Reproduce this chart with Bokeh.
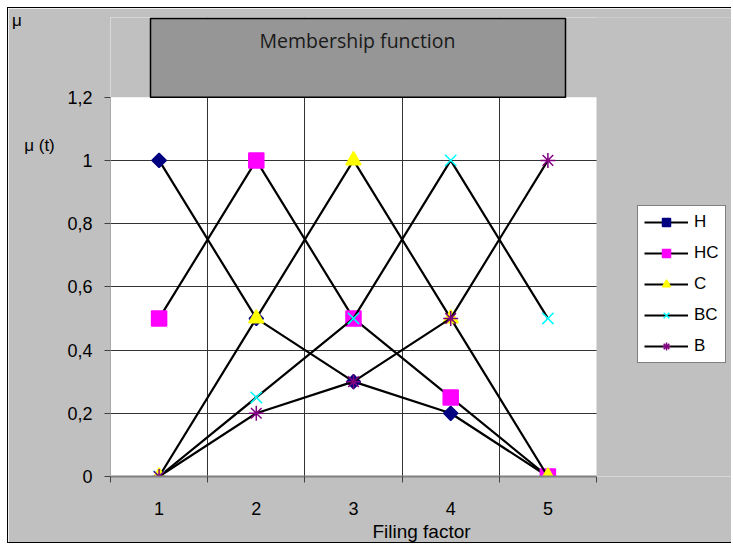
import math
from bokeh.plotting import figure
from bokeh.models import (FixedTicker, Legend, LegendItem, Range1d, LinearAxis, Label)
from bokeh.embed import file_html
from bokeh.resources import INLINE

categories = [1, 2, 3, 4, 5]
x_tick_labels = ["1", "2", "3", "4", "5"]
H = [1, 0.5, 0.3, 0.2, 0]
HC = [0.5, 1, 0.5, 0.25, 0]
C = [0, 0.5, 1, 0.5, 0]
BC = [0, 0.25, 0.5, 1, 0.5]
B = [0, 0.2, 0.3, 0.5, 1]
series_names = ["H", "HC", "C", "BC", "B"]
y_ticks = [0, 0.2, 0.4, 0.6, 0.8, 1.0, 1.2]
y_tick_labels = ["0", "0,2", "0,4", "0,6", "0,8", "1", "1,2"]
title_text = "Membership function"
x_label = "Filing factor"
y_label = "\u03bc  (t)"
corner_label = "\u03bc" + "\u00a0" * 8

ARIAL = "Liberation Sans"
GREY = "#c0c0c0"
W, Hh = 724, 536
# canvas pixels: frame edges and the white plot area inside it
FR_LEFT, FR_TOP, FR_BOT = 102, 9, 470
PLOT_TOP, PLOT_RIGHT = 89, 588
TBOX_LEFT, TBOX_RIGHT = 142, 557
x_min, x_end = categories[0] - 0.5, categories[-1] + 0.5
y_min, y_max = y_ticks[0], y_ticks[-1]


def y_at(px):
    return y_max * (FR_BOT - px) / (FR_BOT - PLOT_TOP)


def x_at(px):
    return x_min + (x_end - x_min) * (px - FR_LEFT) / (PLOT_RIGHT - FR_LEFT)


x_far, y_far = x_at(W), y_at(FR_TOP)
p = figure(width=W, height=Hh, output_backend="svg", toolbar_location=None,
           x_range=Range1d(x_min, x_far), y_range=Range1d(y_min, y_far),
           min_border_left=FR_LEFT, min_border_right=0,
           min_border_top=FR_TOP, min_border_bottom=Hh - FR_BOT)
p.styles = {"margin-left": "7px", "margin-top": "7px",
            "border-top": "1px solid black", "border-left": "1px solid black",
            "border-bottom": "1px solid black"}
p.background_fill_color = "white"
p.border_fill_color = GREY
p.outline_line_color = None

# x axis: labels at category centres, ticks at boundaries
bounds = [c - 0.5 for c in categories] + [x_end]
p.xaxis.bounds = (x_min, x_end)
p.xaxis.ticker = FixedTicker(ticks=categories, minor_ticks=bounds)
p.xaxis.major_label_overrides = {c: l for c, l in zip(categories, x_tick_labels)}
p.xaxis.major_tick_out = 0
p.xaxis.major_tick_in = 0
p.xaxis.minor_tick_out = 6
p.xaxis.minor_tick_in = 0
p.xaxis.minor_tick_line_color = "#404040"
p.xaxis.axis_line_color = "#808080"
p.xaxis.axis_line_width = 2
p.xaxis.major_label_text_font = ARIAL
p.xaxis.major_label_text_font_size = "18px"
p.xaxis.major_label_text_color = "black"
p.xaxis.major_label_standoff = 19
p.xaxis.axis_label = x_label
p.xaxis.axis_label_text_font = ARIAL
p.xaxis.axis_label_text_font_size = "19px"
p.xaxis.axis_label_text_font_style = "normal"
p.xaxis.axis_label_text_color = "black"
p.xaxis.axis_label_standoff = 3

p.yaxis.bounds = (y_min, y_max)
p.yaxis.ticker = FixedTicker(ticks=y_ticks)
p.yaxis.major_label_overrides = {t: l for t, l in zip(y_ticks, y_tick_labels)}
p.yaxis.major_tick_out = 6
p.yaxis.major_tick_in = 0
p.yaxis.major_tick_line_color = "#404040"
p.yaxis.minor_tick_line_color = None
p.yaxis.axis_line_color = "#a8a8a8"
p.yaxis.major_label_text_font = ARIAL
p.yaxis.major_label_text_font_size = "18px"
p.yaxis.major_label_text_color = "black"
p.yaxis.major_label_standoff = 12

# "mu (t)" and corner "mu" as labels on an outer left axis
mu_pos = [y_at(12), y_at(138)]
mu_axis = LinearAxis(ticker=FixedTicker(ticks=mu_pos),
                     major_label_overrides={mu_pos[0]: corner_label, mu_pos[1]: y_label},
                     major_tick_out=0, major_tick_in=0, minor_tick_out=0, minor_tick_in=0,
                     axis_line_color=None, major_tick_line_color=None,
                     minor_tick_line_color=None, major_label_standoff=5,
                     major_label_text_font=ARIAL, major_label_text_font_size="17px",
                     major_label_text_color="black")
p.add_layout(mu_axis, "left")

p.xgrid.ticker = FixedTicker(ticks=bounds[1:-1])
p.xgrid.grid_line_color = "#333333"
p.ygrid.ticker = FixedTicker(ticks=y_ticks[1:-1])
p.ygrid.grid_line_color = "#333333"

styles = [
    dict(marker="square", color="#000080", size=10, angle=math.pi / 4),
    dict(marker="square", color="#ff00ff", size=15, angle=0),
    dict(marker="triangle", color="#ffff00", size=15, angle=0),
    dict(marker="x", color="#00ffff", size=16, angle=0),
    dict(marker="asterisk", color="#800080", size=15, angle=0),
]
items = []
for name, ys, st in zip(series_names, [H, HC, C, BC, B], styles):
    lr = p.line(categories, ys, line_color="black", line_width=2.2)
    sr = p.scatter(categories, ys, marker=st["marker"], size=st["size"], angle=st["angle"],
                   fill_color=st["color"], line_color=st["color"], line_width=1.5)
    items.append(LegendItem(label=name, renderers=[lr, sr]))

# grey chart area outside the white plot area (opaque), then the title box
p.quad(left=[x_min, x_end], right=[x_far, x_far], bottom=[y_max, y_min], top=[y_far, y_far],
       fill_color=GREY, fill_alpha=1.0, line_color=None, level="annotation")
p.quad(left=[x_at(TBOX_LEFT)], right=[x_at(TBOX_RIGHT)], bottom=[y_max], top=[y_at(FR_TOP + 1)],
       fill_color="#969696", fill_alpha=1.0, line_color="black", line_width=1.5,
       level="annotation")
p.add_layout(Label(x=247, x_units="screen", y=y_at(32), text=title_text,
                   text_font="Open Sans", text_font_size="19.5px", text_color="#1a1a1a",
                   text_align="center", text_baseline="middle"))

legend = Legend(items=items, location=(527, 113))
legend.background_fill_color = "white"
legend.background_fill_alpha = 1
legend.border_line_color = "black"
legend.border_line_width = 1
legend.label_text_font = ARIAL
legend.label_text_font_size = "17px"
legend.label_text_color = "black"
legend.glyph_width = 44
legend.glyph_height = 20
legend.label_height = 20
legend.spacing = 11
legend.padding = 6
legend.margin = 0
legend.label_standoff = 6
p.add_layout(legend)

open("out.html", "w").write(file_html(p, INLINE))
